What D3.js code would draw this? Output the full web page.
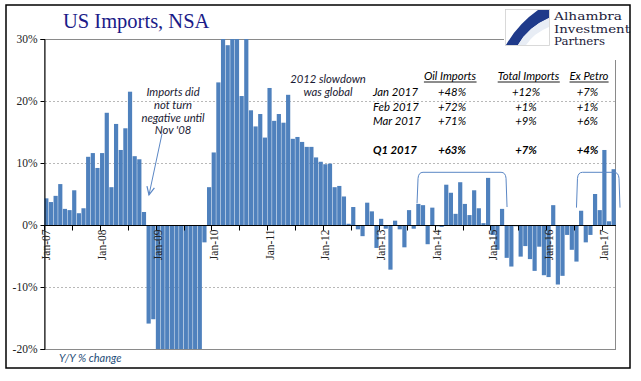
<!DOCTYPE html>
<html><head><meta charset="utf-8">
<script src="https://cdn.jsdelivr.net/npm/d3@7"></script>
<style>body{margin:0;background:#fff}</style>
</head><body><svg id="c" width="641" height="381"></svg>
<script>
// ---- DATA ----
const monthNames = ["Jan","Feb","Mar","Apr","May","Jun","Jul","Aug","Sep","Oct","Nov","Dec"];
// Y/Y % change in US imports (NSA), Jan 2007 .. Mar 2017
const values = [
  4.3, 3.7, 4.7, 6.6, 2.6, 2.4, 5.6, 1.9, 2.7, 11.0, 11.6, 9.2,          // 2007
  11.6, 18.1, 6.1, 16.3, 12.1, 15.6, 21.5, 11.1, 10.6, 2.1, -15.9, -15.2, // 2008
  -27, -31, -30, -34, -35, -33, -31, -29, -25, -22, -2.8, 6.1,            // 2009
  11.7, 23.0, 32, 29.0, 34, 31, 20.8, 31, 18.5, 15.9, 17.9, 14.1,         // 2010
  22.1, 16.8, 17.9, 16.5, 21.0, 13.9, 14.2, 13.4, 12.6, 12.6, 10.9, 10.2, // 2011
  9.8, 9.9, 6.1, 6.3, 4.6, 0.2, 2.9, -0.7, -1.8, 3.6, 2.2, -3.7,          // 2012
  1.0, -0.6, -7.2, 0.7, -0.7, -3.6, 2.4, -0.6, 3.4, 3.2, -3.1, 2.8,       // 2013
  -0.2, -0.3, 6.5, 5.2, 1.8, 6.9, 3.4, 1.6, 5.6, 2.7, 0.3, 7.6,           // 2014
  -1.6, -4.0, 2.6, -5.3, -6.7, -0.2, -5.1, -3.4, -5.5, -7.4, -3.5, -8.1,  // 2015
  -8.4, 3.2, -9.6, -8.2, -1.6, -4.0, -5.9, 2.3, -2.8, -1.6, 5.0, 2.4,     // 2016
  12.1, 0.6, 9.0                                                         // 2017
];
const categories = values.map((v, i) =>
  monthNames[i % 12] + "-" + String(7 + Math.floor(i / 12)).padStart(2, "0"));
const xTickLabels = ["Jan-07","Jan-08","Jan-09","Jan-10","Jan-11","Jan-12","Jan-13","Jan-14","Jan-15","Jan-16","Jan-17"];
const yTicks = [-20, -10, 0, 10, 20, 30];
const yGrid = [-10, 10, 20];

const tableHeaders = ["Oil Imports", "Total Imports", "Ex Petro"];
const tableRows = ["Jan 2017", "Feb 2017", "Mar 2017", "Q1 2017"];
const oilImports = ["+48%", "+72%", "+71%", "+63%"];
const totalImports = ["+12%", "+1%", "+9%", "+7%"];
const exPetro = ["+7%", "+1%", "+6%", "+4%"];

// ---- CHART ----
const svg = d3.select("#c");
const L = 44, R = 616, T = 39, B = 349;
const x = d3.scaleBand().domain(categories).range([L, R]).paddingInner(0.1).paddingOuter(0.05);
const y = d3.scaleLinear().domain([-20, 30]).range([B, T]);
const half = (x.step() - x.bandwidth()) / 2;
const xc = c => x(c) + x.bandwidth() / 2;
const xb = c => x(c) - half;

const serif = "'Liberation Serif', 'Times New Roman', serif";
const sans = "Lato, 'Open Sans', sans-serif";
const blue = "#4F81BD";

svg.append("rect").attr("width", 641).attr("height", 381).attr("fill", "#fff");

// plot border (gray)
svg.append("rect").attr("x", L + 0.5).attr("y", T + 0.5).attr("width", R - L - 1).attr("height", B - T)
  .attr("fill", "none").attr("stroke", "#8a8a8a").attr("stroke-width", 1);

// gridlines
svg.append("g").selectAll("line").data(yGrid).join("line")
  .attr("x1", L + 1).attr("x2", R - 1)
  .attr("y1", d => Math.round(y(d)) + 0.5).attr("y2", d => Math.round(y(d)) + 0.5)
  .attr("stroke", "#b8b8b8").attr("stroke-dasharray", "2,2");

// clip
svg.append("clipPath").attr("id", "pc").append("rect")
  .attr("x", L).attr("y", T).attr("width", R - L).attr("height", B - T);

// bars
svg.append("g").attr("clip-path", "url(#pc)").selectAll("rect").data(values).join("rect")
  .attr("x", (d, i) => x(categories[i]))
  .attr("width", x.bandwidth())
  .attr("y", d => y(Math.max(0, d)))
  .attr("height", d => Math.abs(y(d) - y(0)))
  .attr("fill", blue);

// y axis
const yAxis = d3.axisLeft(y).tickValues(yTicks).tickSize(4).tickFormat(d => d + "%");
const ga = svg.append("g").attr("transform", `translate(${L + 0.5},0)`).call(yAxis);
ga.select(".domain").attr("stroke", "#000");
ga.selectAll(".tick line").attr("stroke", "#000");
ga.selectAll(".tick text").attr("font-family", serif).attr("font-size", 11.5).attr("fill", "#222").attr("x", -7);

// x axis line at 0
const y0 = Math.round(y(0)) + 0.5;
svg.append("line").attr("x1", L).attr("x2", R).attr("y1", y0).attr("y2", y0).attr("stroke", "#000");
// ticks every 6 months at band boundaries
const tickCats = categories.filter((c, i) => i % 6 === 0);
svg.append("g").selectAll("line").data(tickCats).join("line")
  .attr("x1", c => Math.round(xb(c)) + 0.5).attr("x2", c => Math.round(xb(c)) + 0.5)
  .attr("y1", y0).attr("y2", y0 + 5).attr("stroke", "#000");
// rotated labels
svg.append("g").selectAll("text").data(xTickLabels).join("text")
  .attr("transform", c => `translate(${xc(c)},${y0 + 4}) rotate(-90)`)
  .attr("text-anchor", "end").attr("dy", "0.35em")
  .attr("font-family", serif).attr("font-size", 11.5).attr("fill", "#222")
  .text(d => d);

// title
svg.append("text").attr("x", 63).attr("y", 28).attr("font-family", serif).attr("font-size", 20.5)
  .attr("fill", "#1b1b88").text("US Imports, NSA");

// y/y label
svg.append("text").attr("x", 59).attr("y", 361.5).attr("font-family", sans).attr("font-style", "italic")
  .attr("font-size", 11).attr("fill", "#1f4e79").text("Y/Y % change");

// annotations
const ann = (lines, cx, y1, dy) => {
  const t = svg.append("text").attr("font-family", sans).attr("font-style", "italic")
    .attr("font-size", 11.3).attr("fill", "#1a1a33").attr("text-anchor", "middle");
  lines.forEach((l, k) => t.append("tspan").attr("x", cx).attr("y", y1 + k * dy).text(l));
};
ann(["Imports did", "not turn", "negative until", "Nov '08"], 173, 96, 12.8);
ann(["2012 slowdown", "was global"], 328, 83.3, 12.8);

// arrow to Oct-08
const tipX = xc("Oct-08") + 5, tipY = y(values[21]) - 17;
const sX = tipX + 13, sY = tipY - 61;
const arrowCol = "#5b87c5";
svg.append("line").attr("x1", sX).attr("y1", sY).attr("x2", tipX).attr("y2", tipY)
  .attr("stroke", arrowCol).attr("stroke-width", 1);
{
  const dx = sX - tipX, dy = sY - tipY, len = Math.hypot(dx, dy);
  const ux = dx / len, uy = dy / len, a = 25 * Math.PI / 180, hl = 9;
  const arm = s => [tipX + hl * (ux * Math.cos(s * a) - uy * Math.sin(s * a)),
                    tipY + hl * (ux * Math.sin(s * a) + uy * Math.cos(s * a))];
  const p1 = arm(1), p2 = arm(-1);
  svg.append("path").attr("d", `M${p1[0]},${p1[1]}L${tipX},${tipY}L${p2[0]},${p2[1]}`)
    .attr("fill", "none").attr("stroke", arrowCol).attr("stroke-width", 1.2);
}

// brackets
const bracket = (x0, x1, yt, yb0, yb1) => {
  svg.append("path").attr("d",
    `M${x0},${yb0} L${x0 + 1},${yt + 6} Q${x0 + 1.5},${yt} ${x0 + 6},${yt} L${x1 - 6},${yt} Q${x1 - 1.5},${yt} ${x1 - 1},${yt + 6} L${x1},${yb1}`)
    .attr("fill", "none").attr("stroke", "#5b87c5").attr("stroke-width", 1);
};
bracket(xb("Sep-13") + 1, xb("May-15") - 2, y(8.5), y(3.5), y(2.9));
bracket(xc("Jul-16"), R + 4, y(8.5), y(2.8), y(2.8));

// table
const colX = [452, 526, 587.5];
const hdrX = [450, 528.5, 589];
const hdrY = 80;
tableHeaders.forEach((h, k) => {
  const t = svg.append("text").attr("x", hdrX[k]).attr("y", hdrY).attr("text-anchor", "middle")
    .attr("font-family", sans).attr("font-style", "italic").attr("font-size", 11.3).attr("fill", "#000").text(h);
  const bb = t.node().getBBox();
  svg.append("line").attr("x1", bb.x).attr("x2", bb.x + bb.width).attr("y1", hdrY + 2).attr("y2", hdrY + 2)
    .attr("stroke", "#000").attr("stroke-width", 0.9);
});
const rowY = [95.7, 110.5, 124.8, 154];
const cols = [oilImports, totalImports, exPetro];
tableRows.forEach((r, k) => {
  const bold = k === 3 ? 700 : 400;
  svg.append("text").attr("x", 373).attr("y", rowY[k]).attr("font-family", sans).attr("font-style", "italic")
    .attr("font-weight", bold).attr("font-size", 11.3).attr("fill", "#000").text(r);
  cols.forEach((col, j) => {
    svg.append("text").attr("x", colX[j]).attr("y", rowY[k]).attr("text-anchor", "middle")
      .attr("font-family", sans).attr("font-style", "italic").attr("font-weight", bold)
      .attr("font-size", 11.3).attr("fill", "#000").text(col[k]);
  });
});

// logo
const lg = svg.append("g");
lg.append("rect").attr("x", 504).attr("y", 4).attr("width", 128).attr("height", 56).attr("fill", "#fff");
lg.append("rect").attr("x", 505.5).attr("y", 9.5).attr("width", 44).attr("height", 36)
  .attr("fill", "#fff").attr("stroke", "#d0d0d0").attr("stroke-width", 0.8);
lg.append("path").attr("d", "M549,10 L538,10 Q518,24 506,45 L518,45 Q528,27 549,18 Z").attr("fill", "#1f3a8a");
lg.append("path").attr("d", "M518,45 Q528,27 549,18 L549,45 Z").attr("fill", "#e8edf5");
lg.append("path").attr("d", "M526,45 Q534,33 549,27 L549,45 Z").attr("fill", "#ffffff");
const logoText = ["Alhambra", "Investment", "Partners"];
const logoY = [20, 32.5, 45];
const logoW = [68, 76, 51];
logoText.forEach((s, k) => {
  lg.append("text").attr("x", 554).attr("y", logoY[k]).attr("font-family", "'DejaVu Serif', serif")
    .attr("font-size", 10.8).attr("fill", "#1a1a3a").attr("textLength", logoW[k])
    .attr("lengthAdjust", "spacingAndGlyphs").text(s);
});

// outer frame
svg.append("rect").attr("x", 6).attr("y", 5).attr("width", 624).attr("height", 363)
  .attr("fill", "none").attr("stroke", "#000").attr("stroke-width", 1.5);
</script>
</body></html>
